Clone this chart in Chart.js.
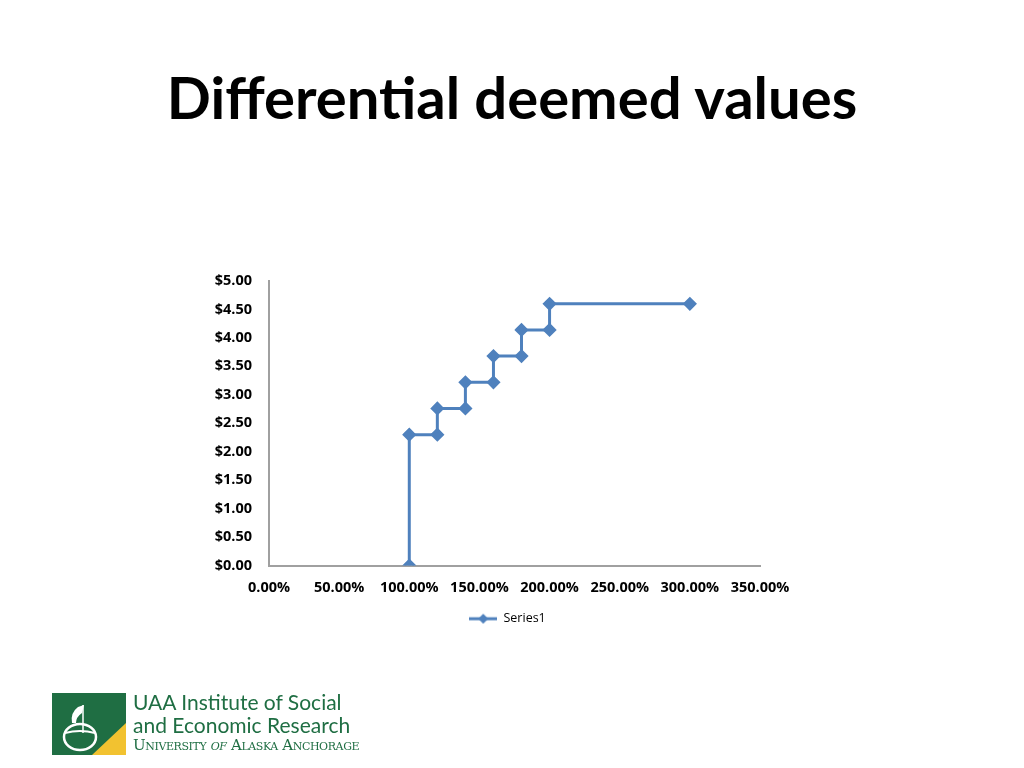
<!DOCTYPE html>
<html>
<head>
<meta charset="utf-8">
<script src="https://cdn.jsdelivr.net/npm/chart.js@4"></script>
<style>
  body { margin: 0; background: #fff; width: 1024px; height: 768px; overflow: hidden; position: relative; font-family: 'Open Sans', sans-serif; }
  #title { position: absolute; left: 0; width: 1024px; top: 62px; text-align: center; font-family: Lato, 'Open Sans', sans-serif; font-weight: bold; font-size: 58px; color: #000; }
  #chartBox { position: absolute; left: 0; top: 0; width: 1024px; height: 768px; }
  #logo { position: absolute; left: 52px; top: 693px; }
  #logo .mark { position: absolute; left: 0; top: 0; width: 74px; height: 62px; }
  #logo .txt { position: absolute; left: 81px; top: -3px; white-space: nowrap; color: #1f6e43; font-family: Lato, sans-serif; }
  #logo .l1 { font-size: 21px; line-height: 23px; }
  #logo .l2 { font-size: 21px; line-height: 23px; }
  #logo .l3 { font-size: 15px; line-height: 18px; font-family: 'DejaVu Serif', serif; font-variant: small-caps; letter-spacing: -0.4px; }
</style>
</head>
<body>
<div id="title">Differential deemed values</div>
<div id="chartBox"><canvas id="deemedChart" width="1024" height="768"></canvas></div>
<div id="logo">
  <svg class="mark" viewBox="0 0 74 62">
    <rect x="0" y="0" width="74" height="62" fill="#1f6e43"/>
    <polygon points="74,30 74,62 40,62" fill="#f2c230"/>
    <ellipse cx="28" cy="44" rx="16" ry="13" fill="none" stroke="#fff" stroke-width="2.5"/>
    <path d="M13 40 Q28 36 43 40" stroke="#fff" stroke-width="2" fill="none"/>
    <line x1="31" y1="12" x2="31" y2="40" stroke="#fff" stroke-width="1.5"/>
    <path d="M20 30 Q18 20 26 14 L32 12 L30 20 Q24 24 24 30 Z" fill="#fff"/>
  </svg>
  <div class="txt">
    <div class="l1">UAA Institute of Social</div>
    <div class="l2">and Economic Research</div>
    <div class="l3">University <i>of</i> Alaska Anchorage</div>
  </div>
</div>
<script>
// deemed value step points: price ratio (%) vs value ($)
const ratioPct = [100, 100, 120, 120, 140, 140, 160, 160, 180, 180, 200, 200, 300];
const deemedValue = [0, 2.30, 2.30, 2.76, 2.76, 3.22, 3.22, 3.68, 3.68, 4.14, 4.14, 4.60, 4.60];
const seriesName = 'Series1';

const lineColor = '#4f81bd';

function legendIcon() {
    const c = document.createElement('canvas');
    c.width = 28;
    c.height = 12;
    const g = c.getContext('2d');
    g.strokeStyle = lineColor;
    g.lineWidth = 3;
    g.beginPath();
    g.moveTo(0, 6);
    g.lineTo(28, 6);
    g.stroke();
    g.fillStyle = lineColor;
    g.beginPath();
    g.moveTo(14, 1);
    g.lineTo(19, 6);
    g.lineTo(14, 11);
    g.lineTo(9, 6);
    g.closePath();
    g.fill();
    return c;
}

// the legend is centred under the plot area, not under the whole padded box
const centerLegend = {
    id: 'centerLegend',
    afterLayout(chart) {
        const lg = chart.legend;
        if (!lg) return;
        const shift = (chart.chartArea.left + chart.chartArea.right) / 2 - 7 - (lg.left + lg.right) / 2;
        lg.left += shift;
        lg.right += shift;
    }
};

function createChart() {
    const ctx = document.getElementById('deemedChart').getContext('2d');
    const points = ratioPct.map((x, i) => ({ x: x, y: deemedValue[i] }));
    const icon = legendIcon();

    return new Chart(ctx, {
        type: 'scatter',
        data: {
            datasets: [{
                label: seriesName,
                data: points,
                showLine: true,
                borderColor: lineColor,
                backgroundColor: lineColor,
                borderWidth: 3,
                pointStyle: 'rectRot',
                pointRadius: 5,
                pointHoverRadius: 5
            }]
        },
        options: {
            responsive: false,
            animation: false,
            layout: {
                padding: { left: 200, right: 264, top: 281, bottom: 133 }
            },
            scales: {
                x: {
                    type: 'linear',
                    min: 0,
                    max: 350,
                    afterFit: s => { s.height = 37; },
                    grid: { display: false },
                    border: { display: true, color: '#a0a0a0', width: 2 },
                    ticks: {
                        stepSize: 50,
                        padding: 6,
                        color: '#000',
                        font: { family: 'Open Sans', weight: 'bold', size: 14.5 },
                        callback: v => v.toFixed(2) + '%'
                    }
                },
                y: {
                    min: 0,
                    max: 5,
                    afterFit: s => { s.width = 69; },
                    grid: { display: false },
                    border: { display: true, color: '#a0a0a0', width: 2 },
                    ticks: {
                        stepSize: 0.5,
                        padding: 9,
                        color: '#000',
                        font: { family: 'Open Sans', weight: 'bold', size: 14.5 },
                        callback: v => '$' + v.toFixed(2)
                    }
                }
            },
            plugins: {
                legend: {
                    position: 'bottom',
                    labels: {
                        color: '#000',
                        font: { family: 'Open Sans', size: 12.5 },
                        usePointStyle: true,
                        pointStyleWidth: 28,
                        boxHeight: 12,
                        generateLabels: chart => [{
                            text: seriesName,
                            pointStyle: icon,
                            fillStyle: lineColor,
                            strokeStyle: lineColor,
                            lineWidth: 0,
                            datasetIndex: 0
                        }]
                    }
                },
                tooltip: { enabled: false }
            }
        },
        plugins: [centerLegend]
    });
}

createChart();
</script>
</body>
</html>
